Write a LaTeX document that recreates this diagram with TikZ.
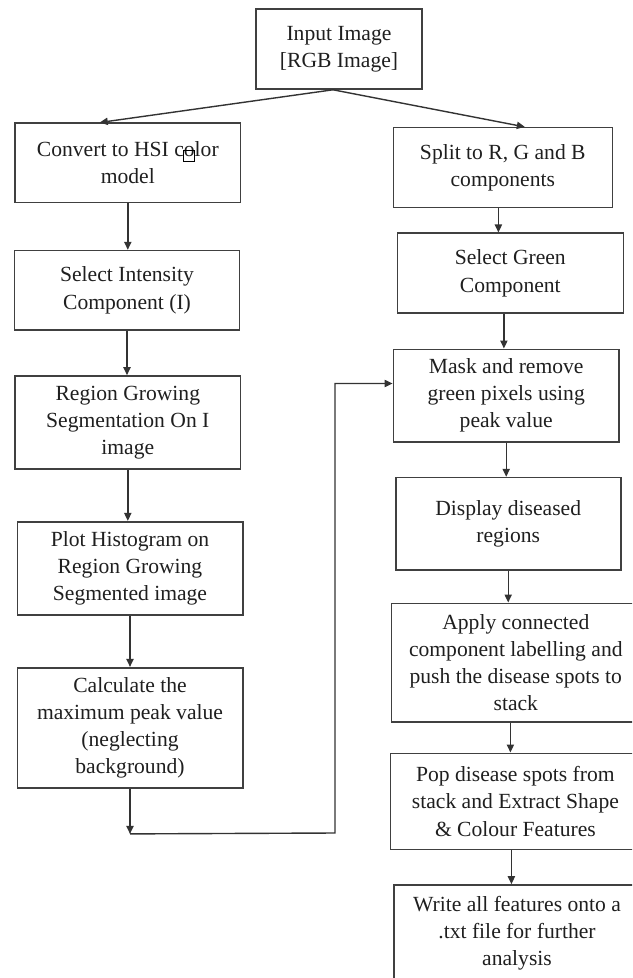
\documentclass[tikz,border=0pt]{standalone}
\usepackage{fontspec}
\setmainfont{Liberation Serif}
\usepackage{tikz}
\usetikzlibrary{arrows.meta,calc}

\tikzset{
  box/.style={draw=black!75, line width=0.8pt, align=center, inner sep=2pt,
    text=black!88, font=\fontsize{10.8pt}{13.6pt}\selectfont},
  arr/.style={-{Triangle[length=4pt,width=3.6pt]}, draw=black!80, line width=0.7pt}
}

\begin{document}
\begin{tikzpicture}[x=0.5pt,y=-0.5pt]
\useasboundingbox (0,0) rectangle (632,978);
\clip (0,0) rectangle (632,978);
\node[box,minimum width=83pt,minimum height=40pt] (input) at (339,49) {Input Image\\{[RGB Image]}};
\node[box,minimum width=112.8pt,minimum height=39.7pt] (convert) at (127.8,163) {Convert to HSI color\\model};
\node[box,minimum width=112.5pt,minimum height=39.7pt] (intensity) at (127,290.3) {Select Intensity\\Component (I)};
\node[box,minimum width=112.8pt,minimum height=46.5pt] (region) at (127.8,422.5) {Region Growing\\Segmentation On I\\image};
\node[box,minimum width=112.7pt,minimum height=46.6pt] (plot) at (130,568.3) {Plot Histogram on\\Region Growing\\Segmented image};
\node[box,minimum width=112.7pt,minimum height=60pt] (calc) at (130,727.7) {Calculate the\\maximum peak value\\(neglecting\\background)};
\node[box,minimum width=109.5pt,minimum height=40pt] (split) at (502.8,167.7) {Split to R, G and B\\components};
\node[box,minimum width=113pt,minimum height=40pt] (green) at (510.3,273.3) {Select Green\\Component};
\node[box,minimum width=112.8pt,minimum height=46.2pt] (mask) at (506.2,395.5) {Mask and remove\\green pixels using\\peak value};
\node[box,minimum width=112.5pt,minimum height=46.2pt] (display) at (508.2,523.8) {Display diseased\\regions};
\node[box,minimum width=124.3pt,minimum height=59.2pt] (apply) at (515.8,662.5) {Apply connected\\component labelling and\\push the disease spots to\\stack};
\node[box,minimum width=125pt,minimum height=48pt] (pop) at (515.4,801.3) {Pop disease spots from\\stack and Extract Shape\\\& Colour Features};
\node[box,minimum width=123.3pt,minimum height=48pt] (write) at (517,933) {Write all features onto a\\.txt file for further\\analysis};
\draw[black, line width=0.5pt] (183,151) rectangle (194,161.5);
\draw[arr] ([xshift=-3pt]input.south) -- ([xshift=-14pt]convert.north);
\draw[arr] ([xshift=-3pt]input.south) -- ([xshift=11pt]split.north);
\draw[arr] (convert.south) -- (convert.south |- intensity.north);
\draw[arr] (intensity.south) -- (intensity.south |- region.north);
\draw[arr] (region.south) -- (region.south |- plot.north);
\draw[arr] (plot.south) -- (plot.south |- calc.north);
\coordinate (bend) at ([yshift=-22.7pt]calc.south);
\draw[arr] (calc.south) -- (bend);
\draw[arr] (bend) -- (335,833) |- ([yshift=6pt]mask.west);
\draw[arr] ([xshift=-2.2pt]split.south) -- ([xshift=-2.2pt]split.south |- green.north);
\draw[arr] ([xshift=-3.2pt]green.south) -- ([xshift=-3.2pt]green.south |- mask.north);
\draw[arr] (mask.south) -- (mask.south |- display.north);
\draw[arr] (display.south) -- (display.south |- apply.north);
\draw[arr] ([xshift=-2.7pt]apply.south) -- ([xshift=-2.7pt]apply.south |- pop.north);
\draw[arr] ([xshift=-2pt]pop.south) -- ([xshift=-2pt]pop.south |- write.north);
\end{tikzpicture}
\end{document}
